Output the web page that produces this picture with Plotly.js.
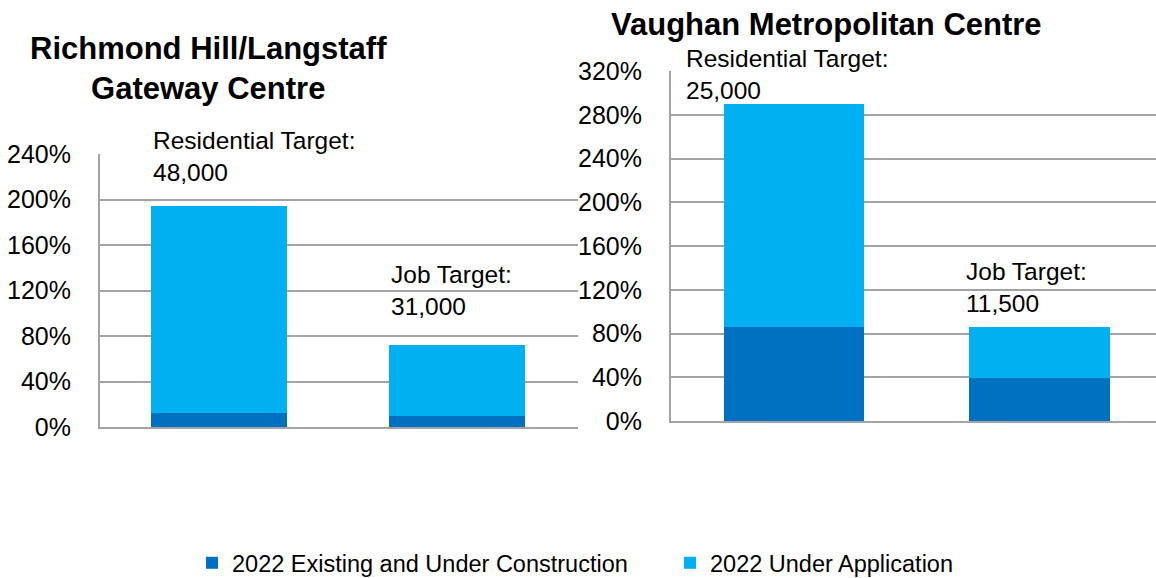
<!DOCTYPE html>
<html>
<head>
<meta charset="utf-8">
<script src="https://cdn.plot.ly/plotly-3.0.1.min.js"></script>
<style>html,body{margin:0;padding:0;background:#fff;}#chart{width:1156px;height:578px;}</style>
</head>
<body>
<div id="chart"></div>
<script>
// ---- data ----
var categories = ["Residential", "Jobs"];
var richmondExisting = [12, 10];        // % of target
var richmondApplication = [182, 62];    // % of target (stacked on top)
var vaughanExisting = [86, 39];
var vaughanApplication = [204, 47];
var richmondLabels = ["Residential Target:<br>48,000", "Job Target:<br>31,000"];
var vaughanLabels = ["Residential Target:<br>25,000", "Job Target:<br>11,500"];
var seriesNames = ["2022 Existing and Under Construction", "2022 Under Application"];
var titles = ["<b>Richmond Hill/Langstaff<br>Gateway Centre</b>", "<b>Vaughan Metropolitan Centre</b>"];

var darkBlue = "#0070C0", lightBlue = "#00B0F0";
var xIdx = [0, 1];
var barW = 0.572;

var traces = [
  {type: "bar", x: xIdx, y: richmondExisting, name: seriesNames[0], marker: {color: darkBlue}, width: barW, xaxis: "x", yaxis: "y", legendgroup: "a", hoverinfo: "y"},
  {type: "bar", x: xIdx, y: richmondApplication, name: seriesNames[1], marker: {color: lightBlue}, width: barW, xaxis: "x", yaxis: "y", legendgroup: "b", hoverinfo: "y"},
  {type: "bar", x: xIdx, y: vaughanExisting, name: seriesNames[0], marker: {color: darkBlue}, width: barW, xaxis: "x2", yaxis: "y2", legendgroup: "a", showlegend: false, hoverinfo: "y"},
  {type: "bar", x: xIdx, y: vaughanApplication, name: seriesNames[1], marker: {color: lightBlue}, width: barW, xaxis: "x2", yaxis: "y2", legendgroup: "b", showlegend: false, hoverinfo: "y"}
];

var gridC = "#a3a3a3";
var tickFont = {family: "Liberation Sans, Arial, sans-serif", size: 25, color: "#000"};
function yax(domain, range, anchor) {
  return {domain: domain, range: range, dtick: 40, ticksuffix: "%", showgrid: true, gridcolor: gridC, gridwidth: 2,
    showline: true, linecolor: gridC, linewidth: 2, zeroline: false, tickfont: tickFont, anchor: anchor,
    ticks: "", ticklabelstandoff: 22, fixedrange: true};
}
function xax(domain, range, anchor) {
  return {domain: domain, range: range, showticklabels: false, showgrid: false, zeroline: false,
    showline: true, linecolor: gridC, linewidth: 2, ticks: "", anchor: anchor, fixedrange: true};
}

var annFont = {family: "Liberation Sans, Arial, sans-serif", size: 24.5, color: "#000"};
var titleFont = {family: "Liberation Sans, Arial, sans-serif", size: 31, color: "#000"};
var annotations = [
  {xref: "x", yref: "y", x: -barW / 2, y: 238, text: richmondLabels[0], xanchor: "left", yanchor: "middle", align: "left", showarrow: false, font: annFont},
  {xref: "x", yref: "y", x: 1 - barW / 2, y: 120, text: richmondLabels[1], xanchor: "left", yanchor: "middle", align: "left", showarrow: false, font: annFont},
  {xref: "x2", yref: "y2", x: -barW / 2, y: 317, xshift: -40, text: vaughanLabels[0], xanchor: "left", yanchor: "middle", align: "left", showarrow: false, font: annFont},
  {xref: "x2", yref: "y2", x: 1 - barW / 2, y: 122, xshift: -5, text: vaughanLabels[1], xanchor: "left", yanchor: "middle", align: "left", showarrow: false, font: annFont},
  {xref: "paper", yref: "paper", x: 208 / 1156, y: 1 - 68 / 578, text: titles[0], xanchor: "center", yanchor: "middle", align: "center", showarrow: false, font: titleFont},
  {xref: "paper", yref: "paper", x: 826 / 1156, y: 1 - 25 / 578, text: titles[1], xanchor: "center", yanchor: "middle", align: "center", showarrow: false, font: titleFont}
];

var layout = {
  width: 1156, height: 578,
  margin: {l: 0, r: 0, t: 0, b: 0, autoexpand: false},
  paper_bgcolor: "#fff", plot_bgcolor: "#fff",
  barmode: "stack",
  showlegend: true,
  legend: {orientation: "h", x: 192 / 1156, xanchor: "left", y: 1 - 563 / 578, yanchor: "middle",
    font: {family: "Liberation Sans, Arial, sans-serif", size: 23.5, color: "#000"}, traceorder: "normal", entrywidth: 433},
  xaxis: xax([100 / 1156, 578 / 1156], [-0.5, 1.51], "y"),
  yaxis: yax([1 - 427 / 578, 1 - 154 / 578], [0, 240], "x"),
  xaxis2: xax([671 / 1156, 1], [-0.5, 1.475], "y2"),
  yaxis2: yax([1 - 421 / 578, 1 - 71 / 578], [0, 320], "x2"),
  annotations: annotations
};

Plotly.newPlot("chart", traces, layout, {displayModeBar: false, staticPlot: true});
</script>
</body>
</html>
